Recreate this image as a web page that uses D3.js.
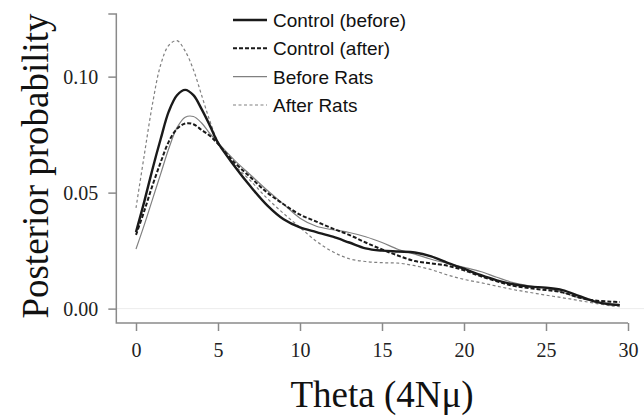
<!DOCTYPE html>

<head>
	<meta charset="utf-8" />
	<style>
		body {
			margin: 0;
			background-color: #fff;
		}

		.tick text {
			font-family: 'Liberation Serif', 'Times New Roman', serif;
			font-size: 20px;
			fill: #222;
		}

		.title {
			font-family: 'Liberation Serif', 'Times New Roman', serif;
			font-size: 37px;
			fill: #111;
		}

		.legend text {
			font-family: 'Liberation Sans', Arial, sans-serif;
			font-size: 19px;
			fill: #111;
		}
	</style>
</head>

<body>
	<div id="chart-area"></div>

	<script src="https://cdnjs.cloudflare.com/ajax/libs/d3/7.8.5/d3.min.js"></script>
	<script>
		var width = 644,
			height = 419;

		// theta grid (4Nu), finer around the peaks
		var theta = [
			0, 0.5, 1, 1.5, 2, 2.5, 3, 3.5, 4, 4.5, 5, 6, 7, 8, 9, 10, 11, 12, 13,
			14, 15, 16, 17, 18, 19, 20, 21, 22, 23, 24, 25, 26, 27, 28, 29, 29.5,
		];

		var controlBefore = [
			0.033, 0.046, 0.06, 0.073, 0.085, 0.092, 0.0943, 0.092, 0.086, 0.079,
			0.0715, 0.0615, 0.0525, 0.0445, 0.0385, 0.035, 0.033, 0.031, 0.0285,
			0.026, 0.025, 0.0246, 0.0242, 0.0225, 0.0197, 0.0172, 0.0145, 0.0122,
			0.0105, 0.0095, 0.009, 0.008, 0.0055, 0.003, 0.0017, 0.0015,
		];

		var controlAfter = [
			0.0318, 0.042, 0.053, 0.063, 0.072, 0.0775, 0.0798, 0.0795, 0.077,
			0.0745, 0.071, 0.063, 0.0565, 0.05, 0.045, 0.0405, 0.0375, 0.0345,
			0.0318, 0.0285, 0.0255, 0.0228, 0.0205, 0.0195, 0.0185, 0.0165, 0.014,
			0.0118, 0.0098, 0.0088, 0.008, 0.007, 0.0048, 0.0035, 0.003, 0.0028,
		];

		var beforeRats = [
			0.0257, 0.036, 0.047, 0.058, 0.069, 0.078, 0.0825, 0.0828, 0.08,
			0.0755, 0.0715, 0.064, 0.0575, 0.051, 0.045, 0.039, 0.0355, 0.034,
			0.0328, 0.031, 0.0285, 0.0255, 0.0235, 0.0213, 0.0195, 0.0178, 0.016,
			0.0135, 0.0112, 0.0098, 0.0088, 0.007, 0.0047, 0.003, 0.0022, 0.0018,
		];

		var afterRats = [
			0.0434, 0.066, 0.088, 0.105, 0.1135, 0.1155, 0.111, 0.103, 0.092,
			0.081, 0.072, 0.062, 0.055, 0.0475, 0.041, 0.035, 0.029, 0.0245,
			0.0215, 0.0203, 0.0198, 0.0196, 0.0185, 0.0168, 0.0145, 0.0126,
			0.0112, 0.0097, 0.0082, 0.007, 0.0058, 0.0047, 0.0035, 0.0023, 0.0012,
			0.0008,
		];

		var xTicks = [0, 5, 10, 15, 20, 25, 30];
		var yTicks = [0, 0.05, 0.1];

		var seriesNames = [
			'Control (before)',
			'Control (after)',
			'Before Rats',
			'After Rats',
		];

		var series = [
			{ name: seriesNames[0], values: controlBefore, stroke: '#1a1a1a', w: 2.4, dash: null },
			{ name: seriesNames[1], values: controlAfter, stroke: '#1a1a1a', w: 2.0, dash: '4,2' },
			{ name: seriesNames[2], values: beforeRats, stroke: '#808080', w: 1.2, dash: null },
			{ name: seriesNames[3], values: afterRats, stroke: '#808080', w: 1.2, dash: '3,2.5' },
		];

		var x = d3.scaleLinear().domain([0, 30]).range([136, 628]);
		var y = d3.scaleLinear().domain([-0.0062, 0.127]).range([323, 14]);

		var svg = d3
			.select('#chart-area')
			.append('svg')
			.attr('width', width)
			.attr('height', height);

		// faint zero line
		svg.append('line')
			.attr('x1', x(-1.2))
			.attr('x2', width)
			.attr('y1', y(0))
			.attr('y2', y(0))
			.attr('stroke', '#ececec')
			.attr('stroke-width', 1);

		// axes
		var yAxis = svg
			.append('g')
			.attr('transform', 'translate(' + x(-1.2) + ',0)')
			.call(
				d3.axisLeft(y)
					.tickValues(yTicks)
					.tickFormat(d3.format('.2f'))
					.tickSize(8)
					.tickPadding(10)
			);

		var xAxis = svg
			.append('g')
			.attr('transform', 'translate(0,' + y(-0.0062) + ')')
			.call(
				d3.axisBottom(x)
					.tickValues(xTicks)
					.tickSize(8)
					.tickPadding(8)
			);

		[yAxis, xAxis].forEach(g => {
			g.select('.domain').remove();
			g.selectAll('.tick line').attr('stroke', '#8a8a8a').attr('stroke-width', 1.5);
		});
		xAxis.selectAll('.tick text').attr('dy', '0.9em');
		yAxis.selectAll('.tick text').attr('dy', '0.35em');

		// L-shaped axis frame with a stub at the top
		svg.append('path')
			.attr(
				'd',
				'M' + (x(-1.2) - 8) + ',' + y(0.127) +
				'H' + x(-1.2) +
				'V' + y(-0.0062) +
				'H' + x(30)
			)
			.attr('fill', 'none')
			.attr('stroke', '#8a8a8a')
			.attr('stroke-width', 1.5);

		var line = d3
			.line()
			.x((d, i) => x(theta[i]))
			.y(d => y(d))
			.curve(d3.curveCatmullRom.alpha(0.5));

		svg.append('g')
			.selectAll('path')
			.data(series.slice().reverse())
			.join('path')
			.attr('d', d => line(d.values))
			.attr('fill', 'none')
			.attr('stroke', d => d.stroke)
			.attr('stroke-width', d => d.w)
			.attr('stroke-dasharray', d => d.dash);

		// legend
		var legendY = d3.scalePoint().domain(seriesNames).range([20, 105]);
		var legend = svg
			.append('g')
			.attr('class', 'legend')
			.selectAll('g')
			.data(series)
			.join('g')
			.attr('transform', d => 'translate(233,' + legendY(d.name) + ')');

		legend
			.append('line')
			.attr('x1', 0)
			.attr('x2', 34)
			.attr('stroke', d => d.stroke)
			.attr('stroke-width', d => d.w)
			.attr('stroke-dasharray', d => d.dash);

		legend
			.append('text')
			.attr('x', 40)
			.attr('dy', '0.36em')
			.text(d => d.name);

		// titles
		svg.append('text')
			.attr('class', 'title')
			.attr('x', x(15))
			.attr('y', 407)
			.attr('text-anchor', 'middle')
			.text('Theta (4Nμ)');

		svg.append('text')
			.attr('class', 'title')
			.attr('transform', 'translate(48,166) rotate(-90)')
			.attr('text-anchor', 'middle')
			.text('Posterior probability');
	</script>
</body>
